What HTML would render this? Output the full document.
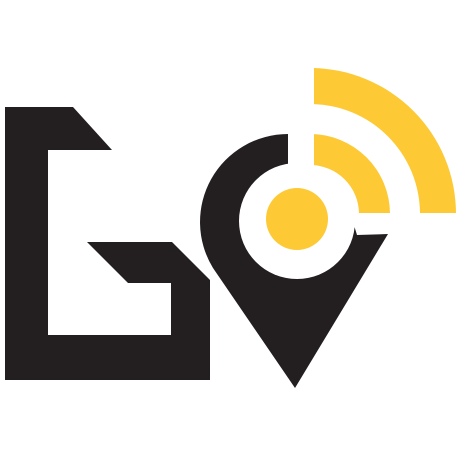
<!DOCTYPE html>
<html><head><meta charset="utf-8"><style>html,body{margin:0;padding:0;background:#fff}svg{display:block}</style></head>
<body>
<svg width="456" height="456" viewBox="0 0 456 456">
<defs><clipPath id="q"><rect x="314" y="0" width="200" height="213"/></clipPath></defs>
<path fill="#231f20" d="M5,107 L73,107 L112,150 L48,150 L48,335 L171,335 L171,283 L128,283 L87,242 L172,242 L210,280 L210,380 L5,380 Z"/>
<path fill="#231f20" d="M288,134 A88,88 0 0 0 213,268 L295,388 L388,234 L357,235 L353,222 L288,222 Z"/>
<circle cx="297" cy="221" r="58" fill="#fff"/>
<circle cx="297" cy="219" r="31" fill="#fdc935"/>
<g clip-path="url(#q)" fill="#fdc935">
<path fill-rule="evenodd" d="M230,214 a80,80 0 1 0 160,0 a80,80 0 1 0 -160,0 Z M261,214 a49,49 0 1 0 98,0 a49,49 0 1 0 -98,0 Z"/>
<path fill-rule="evenodd" d="M164,214 a146,146 0 1 0 292,0 a146,146 0 1 0 -292,0 Z M200,214 a110,110 0 1 0 220,0 a110,110 0 1 0 -220,0 Z"/>
</g>
</svg>
</body></html>
